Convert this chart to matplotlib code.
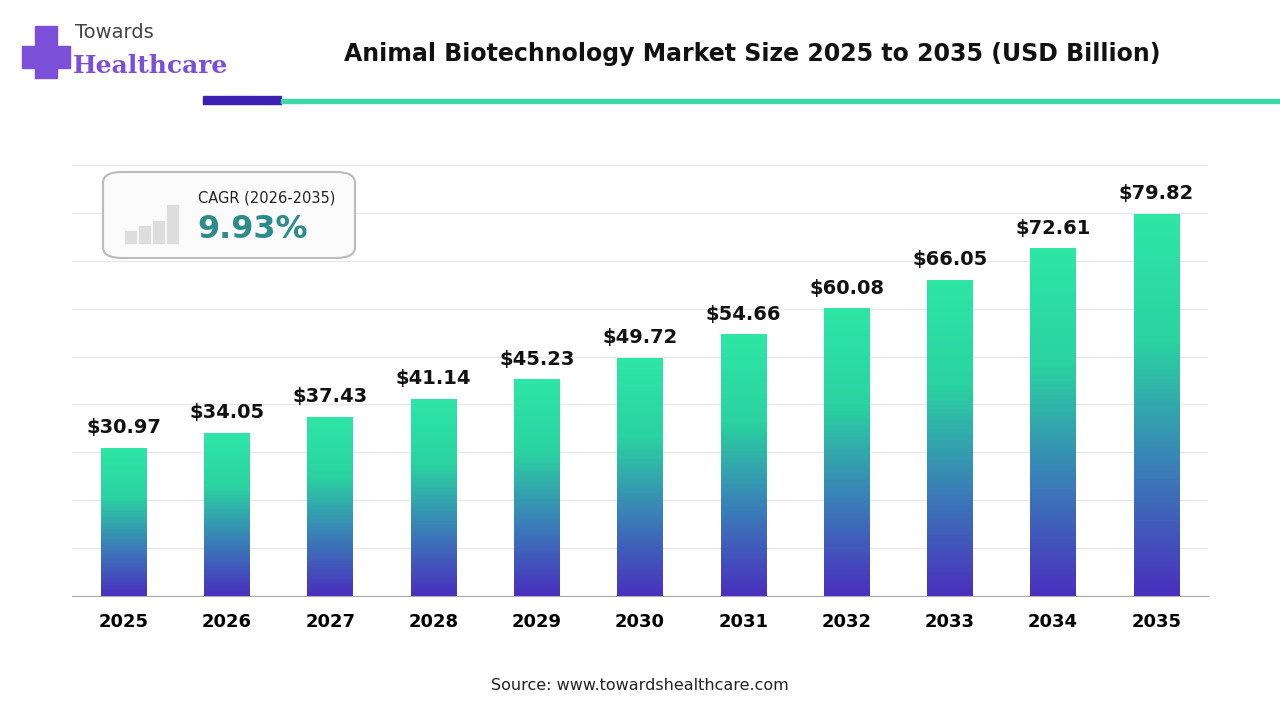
import matplotlib.pyplot as plt
import numpy as np
from matplotlib.colors import LinearSegmentedColormap
from matplotlib.patches import FancyBboxPatch, Rectangle

years = ["2025", "2026", "2027", "2028", "2029", "2030", "2031", "2032", "2033", "2034", "2035"]
values = [30.97, 34.05, 37.43, 41.14, 45.23, 49.72, 54.66, 60.08, 66.05, 72.61, 79.82]

fig = plt.figure(figsize=(12.8, 7.2), dpi=100)
fig.patch.set_facecolor("white")
ax = fig.add_axes([0.05625, 0.1722, 0.8875, 0.5986])

cmap = LinearSegmentedColormap.from_list("bar", ["#4a2fbe", "#3a7fb8", "#2ad3a0", "#2ee6a6"])
grad = np.linspace(0, 1, 256).reshape(-1, 1)
width = 0.44
for i, v in enumerate(values):
    rect = Rectangle((i - width / 2, 0), width, v, facecolor="none", edgecolor="none")
    ax.add_patch(rect)
    im = ax.imshow(grad, cmap=cmap, origin="lower", aspect="auto",
                   extent=(i - width / 2, i + width / 2, 0, v), zorder=2)
    im.set_clip_path(rect)
    ax.text(i, v + 2.2, f"${v:.2f}", ha="center", va="bottom", fontsize=14,
            fontweight="bold", color="#111111")

ax.set_xlim(-0.5, len(years) - 0.5)
ax.set_ylim(0, 90)
ax.set_yticks(np.arange(0, 91, 10))
ax.yaxis.grid(True, color="#e8e8e8", linewidth=1)
ax.set_axisbelow(True)
ax.tick_params(axis="y", left=False, labelleft=False)
ax.set_xticks(range(len(years)))
ax.set_xticklabels(years, fontsize=13, fontweight="bold")
ax.tick_params(axis="x", length=0, pad=12)
for s in ["top", "right", "left"]:
    ax.spines[s].set_visible(False)
ax.spines["bottom"].set_color("#aaaaaa")

# title and header bars
fig.text(752 / 1280, 0.925, "Animal Biotechnology Market Size 2025 to 2035 (USD Billion)",
         ha="center", va="center", fontsize=17, fontweight="bold", color="#111111")
fig.add_artist(Rectangle((203 / 1280, 1 - 104 / 720), 78 / 1280, 8 / 720,
                         transform=fig.transFigure, color="#3a1fb0"))
fig.add_artist(Rectangle((281 / 1280, 1 - 103 / 720), 1 - 281 / 1280, 4 / 720,
                         transform=fig.transFigure, color="#3fd6a8"))

# logo
fig.text(75 / 1280, 1 - 33 / 720, "Towards", fontsize=14, color="#444444", va="center")
fig.text(73 / 1280, 1 - 66 / 720, "Healthcare", fontsize=18, fontweight="bold",
         color="#7b4fd8", va="center", family="DejaVu Serif")
fig.add_artist(Rectangle((22 / 1280, 1 - 68 / 720), 48 / 1280, 22 / 720,
                         transform=fig.transFigure, color="#7b4fd8"))
fig.add_artist(Rectangle((35 / 1280, 1 - 78 / 720), 22 / 1280, 52 / 720,
                         transform=fig.transFigure, color="#7b4fd8"))

# CAGR box
fig.add_artist(FancyBboxPatch((103 / 1280, 1 - 258 / 720), 252 / 1280, 86 / 720,
                              boxstyle="round,pad=0,rounding_size=0.015",
                              transform=fig.transFigure, facecolor="#fbfbfb",
                              edgecolor="#bbbbbb", linewidth=1.5))
for k, h in enumerate([12, 17, 22, 38]):
    fig.add_artist(Rectangle(((125 + k * 14) / 1280, 1 - 243 / 720), 11 / 1280, h / 720,
                             transform=fig.transFigure, color="#dddddd"))
fig.text(198 / 1280, 1 - 198 / 720, "CAGR (2026-2035)", fontsize=10.5, color="#222222", va="center")
fig.text(197 / 1280, 1 - 229 / 720, "9.93%", fontsize=23, fontweight="bold", color="#2e8b8b", va="center")

fig.text(0.5, 1 - 686 / 720, "Source: www.towardshealthcare.com", ha="center", va="center",
         fontsize=11.5, color="#222222")

fig.savefig("out.png", dpi=100)
